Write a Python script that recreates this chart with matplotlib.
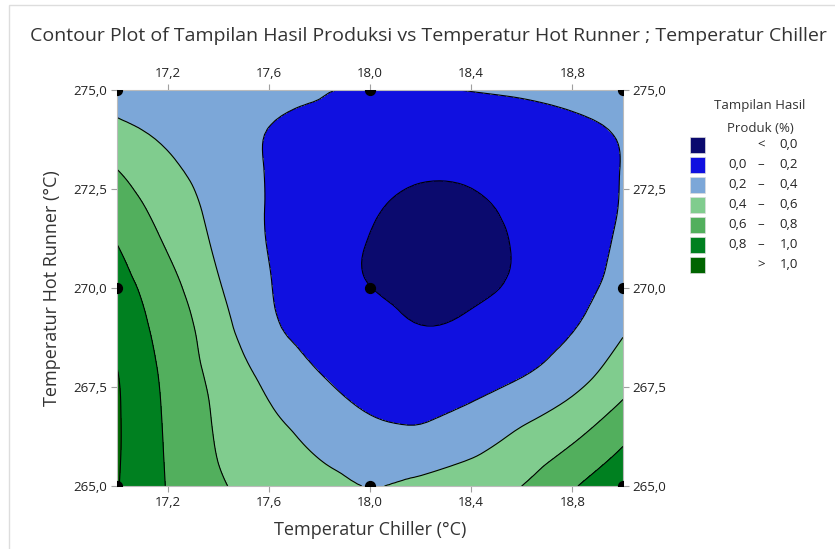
import matplotlib
matplotlib.use("Agg")
import matplotlib.pyplot as plt
import matplotlib.tri as mtri
from matplotlib.patches import Rectangle
import numpy as np

plt.rcParams['font.family'] = ['Open Sans', 'DejaVu Sans']

# faktor (sumbu)
chiller = [17.0, 17.2, 17.4, 17.6, 17.8, 18.0, 18.2, 18.4, 18.6, 18.8, 19.0]
hot_runner = [265, 266, 267, 268, 269, 270, 271, 272, 273, 274, 275]

# Tampilan Hasil Produk (%), baris = hot runner 265..275
hasil_265 = [1.01, 0.79, 0.62, 0.54, 0.47, 0.395, 0.455, 0.53, 0.60, 0.78, 0.93]
hasil_266 = [1.02, 0.78, 0.59, 0.48, 0.37, 0.29, 0.27, 0.35, 0.47, 0.61, 0.80]
hasil_267 = [1.02, 0.77, 0.57, 0.41, 0.28, 0.18, 0.16, 0.215, 0.32, 0.445, 0.63]
hasil_268 = [1.00, 0.75, 0.53, 0.33, 0.19, 0.12, 0.085, 0.10, 0.17, 0.29, 0.49]
hasil_269 = [0.94, 0.72, 0.48, 0.24, 0.14, 0.08, 0.005, 0.04, 0.11, 0.19, 0.37]
hasil_270 = [0.88, 0.67, 0.42, 0.21, 0.10, 0.003, -0.05, -0.04, 0.04, 0.14, 0.26]
hasil_271 = [0.81, 0.59, 0.37, 0.195, 0.09, -0.01, -0.06, -0.05, 0.02, 0.12, 0.23]
hasil_272 = [0.71, 0.52, 0.34, 0.19, 0.10, 0.02, -0.04, -0.03, 0.04, 0.12, 0.21]
hasil_273 = [0.60, 0.44, 0.31, 0.19, 0.12, 0.07, 0.03, 0.04, 0.09, 0.14, 0.205]
hasil_274 = [0.44, 0.36, 0.28, 0.198, 0.17, 0.14, 0.12, 0.125, 0.14, 0.17, 0.215]
hasil_275 = [0.33, 0.30, 0.27, 0.24, 0.205, 0.197, 0.196, 0.203, 0.22, 0.25, 0.29]

# titik desain
titik_chiller = [17.0, 17.0, 17.0, 18.0, 18.0, 18.0, 19.0, 19.0, 19.0]
titik_runner = [265, 270, 275, 265, 270, 275, 265, 270, 275]

batas = [0.0, 0.2, 0.4, 0.6, 0.8, 1.0]
warna = ["#0B0A6E", "#1010E0", "#7CA7D8", "#80CC8E", "#52AF5D", "#008020", "#006400"]
label_kiri = ["", "0,0", "0,2", "0,4", "0,6", "0,8", ""]
label_tengah = ["<", "–", "–", "–", "–", "–", ">"]
label_kanan = ["0,0", "0,2", "0,4", "0,6", "0,8", "1,0", "1,0"]

Z = np.array([hasil_265, hasil_266, hasil_267, hasil_268, hasil_269, hasil_270,
              hasil_271, hasil_272, hasil_273, hasil_274, hasil_275])
X, Y = np.meshgrid(chiller, hot_runner)

# triangulasi grid lalu dihaluskan oleh matplotlib
t0 = mtri.Triangulation((X.ravel() - 17) / 2, (Y.ravel() - 265) / 10)
tri = mtri.Triangulation(X.ravel(), Y.ravel(), t0.triangles)
refiner = mtri.UniformTriRefiner(tri)
tri_h, z_h = refiner.refine_field(Z.ravel(), subdiv=3)

fig = plt.figure(figsize=(8.35, 5.49), dpi=100)
ax = fig.add_axes([117 / 835, 1 - 486 / 549, 506 / 835, 396 / 549])

lv = [-10] + batas + [10]
ax.tricontourf(tri_h, z_h, levels=lv, colors=warna)
ax.tricontour(tri_h, z_h, levels=batas, colors="black", linewidths=0.8)
ax.scatter(titik_chiller, titik_runner, s=50, color="black", zorder=5, clip_on=True)

ax.set_xlim(17.0, 19.0)
ax.set_ylim(265, 275)
ax.set_xticks([17.2, 17.6, 18.0, 18.4, 18.8])
ax.set_xticklabels(["17,2", "17,6", "18,0", "18,4", "18,8"])
ax.set_yticks([265, 267.5, 270, 272.5, 275])
ax.set_yticklabels(["265,0", "267,5", "270,0", "272,5", "275,0"])
ax.tick_params(which="both", top=True, right=True, labeltop=True, labelright=True,
               direction="out", length=4, color="#A0A0A0", labelsize=9.5,
               labelcolor="#222222", pad=3)
for s in ax.spines.values():
    s.set_color("#BBBBBB")
    s.set_linewidth(0.8)

ax.set_xlabel("Temperatur Chiller (°C)", fontsize=13, color="#333333", labelpad=9)
ax.set_ylabel("Temperatur Hot Runner (°C)", fontsize=13, color="#333333", labelpad=9)
fig.text(428 / 835, 1 - 36 / 549, "Contour Plot of Tampilan Hasil Produksi vs Temperatur Hot Runner ; Temperatur Chiller",
         ha="center", va="center", fontsize=14, color="#333333")

# legenda manual
fig.text(760 / 835, 1 - 105 / 549, "Tampilan Hasil", ha="center", va="center", fontsize=9.5, color="#333333")
fig.text(760 / 835, 1 - 128 / 549, "Produk (%)", ha="center", va="center", fontsize=9.5, color="#333333")
for i, c in enumerate(warna):
    yc = 145 + i * 20
    fig.patches.append(Rectangle((690 / 835, 1 - (yc + 8) / 549), 15 / 835, 16 / 549,
                                 transform=fig.transFigure, facecolor=c, edgecolor="#DDDDDD", lw=0.5))
    fig.text(747 / 835, 1 - yc / 549, label_kiri[i], ha="right", va="center", fontsize=9.5, color="#222222")
    fig.text(761 / 835, 1 - yc / 549, label_tengah[i], ha="center", va="center", fontsize=9.5, color="#222222")
    fig.text(798 / 835, 1 - yc / 549, label_kanan[i], ha="right", va="center", fontsize=9.5, color="#222222")

# bingkai tipis
fig.patches.append(Rectangle((9 / 835, -0.1), 2, 1.1 - 5 / 549, transform=fig.transFigure,
                             facecolor="none", edgecolor="#DDDDDD", lw=1))

fig.savefig("out.png", dpi=100)
